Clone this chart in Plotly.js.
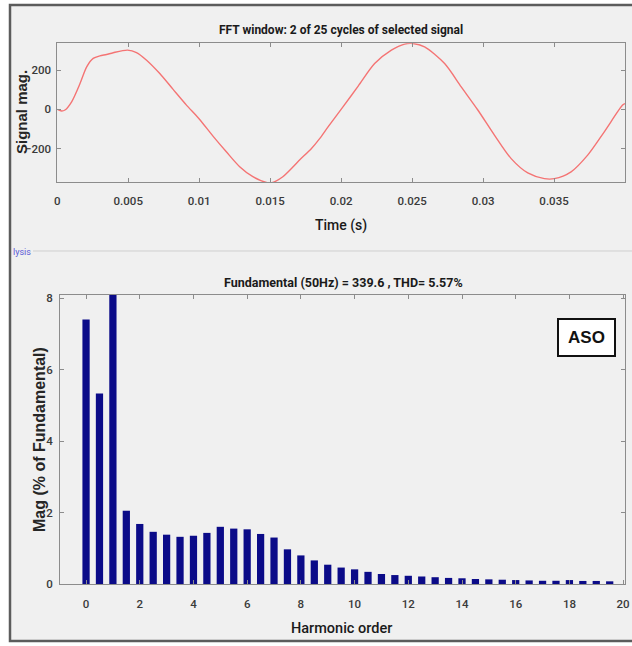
<!DOCTYPE html>
<html>
<head>
<meta charset="utf-8">
<script src="https://cdn.plot.ly/plotly-3.0.1.min.js"></script>
<style>
  html, body { margin: 0; padding: 0; background: #ffffff; }
  #chart { width: 632px; height: 646px; }
</style>
</head>
<body>
<div id="chart"></div>
<script>
// ---- Top panel: FFT window signal ----
const timeS = [0, 0.00031, 0.00054, 0.00101, 0.0016, 0.00207, 0.00253, 0.003, 0.00347, 0.00394, 0.00495,
  0.00558, 0.00629, 0.00722, 0.00816, 0.0091, 0.00997, 0.01097, 0.01191, 0.01285, 0.01378, 0.01473,
  0.0151, 0.01589, 0.01707, 0.01791, 0.01847, 0.01909, 0.02014, 0.0212, 0.02236, 0.02354, 0.02447,
  0.02506, 0.02588, 0.02729, 0.02846, 0.02963, 0.0308, 0.03198, 0.03315, 0.03432, 0.03502, 0.0362,
  0.03737, 0.03854, 0.03983, 0.04];
const signalMag = [0, -8, -3, 39, 132, 217, 260, 273, 280, 289, 302,
  290, 251, 183, 102, 22, -46, -136, -216, -292, -343, -372,
  -374, -343, -258, -199, -150, -88, 14, 119, 234, 302, 333,
  336, 319, 234, 115, -3, -131, -251, -324, -353, -353, -318,
  -233, -114, 22, 30];
const timeTicks = [0, 0.005, 0.01, 0.015, 0.02, 0.025, 0.03, 0.035];
const timeTickText = ['0', '0.005', '0.01', '0.015', '0.02', '0.025', '0.03', '0.035'];
const signalTicks = [-200, 0, 200];

// ---- Bottom panel: harmonic spectrum ----
const harmonicOrder = [0, 0.5, 1, 1.5, 2, 2.5, 3, 3.5, 4, 4.5,
  5, 5.5, 6, 6.5, 7, 7.5, 8, 8.5, 9, 9.5,
  10, 10.5, 11, 11.5, 12, 12.5, 13, 13.5, 14, 14.5,
  15, 15.5, 16, 16.5, 17, 17.5, 18, 18.5, 19, 19.5];
const magPercent = [7.4, 5.33, 100, 2.05, 1.68, 1.46, 1.38, 1.32, 1.35, 1.43,
  1.60, 1.55, 1.53, 1.40, 1.30, 0.97, 0.80, 0.66, 0.54, 0.46,
  0.41, 0.34, 0.28, 0.25, 0.23, 0.21, 0.19, 0.17, 0.16, 0.14,
  0.13, 0.12, 0.11, 0.10, 0.09, 0.09, 0.11, 0.085, 0.085, 0.075];
const harmonicTicks = [0, 2, 4, 6, 8, 10, 12, 14, 16, 18, 20];
const magTicks = [0, 2, 4, 6, 8];

const topTitle = 'FFT window: 2 of 25 cycles of selected signal';
const bottomTitle = 'Fundamental (50Hz) = 339.6 , THD= 5.57%';

const W = 632, H = 646;
const px = x => x / W;
const py = y => 1 - y / H;

const narrow = 'Roboto, Liberation Sans, sans-serif';
const sans = 'Liberation Sans, Arial, sans-serif';

const axisCommon = {
  showline: true, mirror: 'ticks', linecolor: '#8c8c8c', linewidth: 1,
  ticks: 'inside', ticklen: 4, tickcolor: '#8c8c8c', tickwidth: 1,
  showgrid: false, zeroline: false,
  tickfont: { family: narrow, size: 11.5, color: '#3a3a3a', weight: 500 }
};

const traces = [
  {
    x: timeS, y: signalMag, type: 'scatter', mode: 'lines',
    line: { color: '#f47474', width: 1.4, shape: 'spline', smoothing: 0.8 },
    xaxis: 'x', yaxis: 'y', hoverinfo: 'skip'
  },
  {
    x: harmonicOrder, y: magPercent, type: 'bar', width: 0.27,
    marker: { color: '#0b0b88', line: { width: 0 } },
    xaxis: 'x2', yaxis: 'y2', hoverinfo: 'skip'
  }
];

function label(text, x, y, font, extra) {
  return Object.assign({
    text: text, xref: 'paper', yref: 'paper', x: px(x), y: py(y),
    xanchor: 'center', yanchor: 'middle', showarrow: false, font: font
  }, extra || {});
}

const layout = {
  width: W, height: H,
  margin: { l: 0, r: 0, t: 0, b: 0 },
  paper_bgcolor: '#ffffff',
  plot_bgcolor: '#ffffff',
  showlegend: false,
  xaxis: Object.assign({}, axisCommon, {
    domain: [px(57.3), px(625)], range: [0, 0.04], anchor: 'y',
    tickvals: timeTicks, ticktext: timeTickText, ticklabelstandoff: 8
  }),
  yaxis: Object.assign({}, axisCommon, {
    domain: [py(182), py(43.3)], range: [-370, 337], anchor: 'x',
    tickvals: signalTicks, ticklabelstandoff: 3
  }),
  xaxis2: Object.assign({}, axisCommon, {
    domain: [px(60), px(625)], range: [-0.97, 20.07], anchor: 'y2',
    tickvals: harmonicTicks, ticklabelstandoff: 9
  }),
  yaxis2: Object.assign({}, axisCommon, {
    domain: [py(584), py(294.5)], range: [0, 8.1], anchor: 'x2',
    tickvals: magTicks, ticklabelstandoff: 4
  }),
  shapes: [
    { type: 'rect', xref: 'paper', yref: 'paper', layer: 'below',
      x0: px(10), x1: 1.05, y0: py(641), y1: py(5),
      fillcolor: '#f0f0f0', line: { color: '#5c5c5c', width: 2.5 } },
    { type: 'line', xref: 'paper', yref: 'paper', layer: 'below',
      x0: px(33), x1: 1.02, y0: py(251), y1: py(251),
      line: { color: '#cfcfcf', width: 1 } }
  ],
  annotations: [
    label(topTitle, 341, 30, { family: narrow, size: 12, color: '#1a1a1a', weight: 'bold' }),
    label('Time (s)', 341, 225, { family: narrow, size: 14, color: '#1a1a1a', weight: 500 }),
    label('Signal mag.', 21, 112, { family: sans, size: 15, color: '#262626', weight: 'bold' }, { textangle: -90 }),
    label('lysis', 11, 252, { family: narrow, size: 9, color: '#5b5bd6' }, { xanchor: 'left' }),
    label(bottomTitle, 343, 283, { family: narrow, size: 12.5, color: '#1a1a1a', weight: 'bold' }),
    label('Harmonic order', 341, 628, { family: narrow, size: 14.5, color: '#1a1a1a', weight: 500 }),
    label('Mag (% of Fundamental)', 39, 440, { family: sans, size: 16, color: '#262626', weight: 'bold' }, { textangle: -90 }),
    label('ASO', 586.5, 337.5, { family: sans, size: 17, color: '#111111', weight: 'bold' },
      { width: 55, height: 35, bgcolor: '#ffffff', bordercolor: '#111111', borderwidth: 2, borderpad: 0 })
  ]
};

Plotly.newPlot('chart', traces, layout, { staticPlot: true, displayModeBar: false });
</script>
</body>
</html>
